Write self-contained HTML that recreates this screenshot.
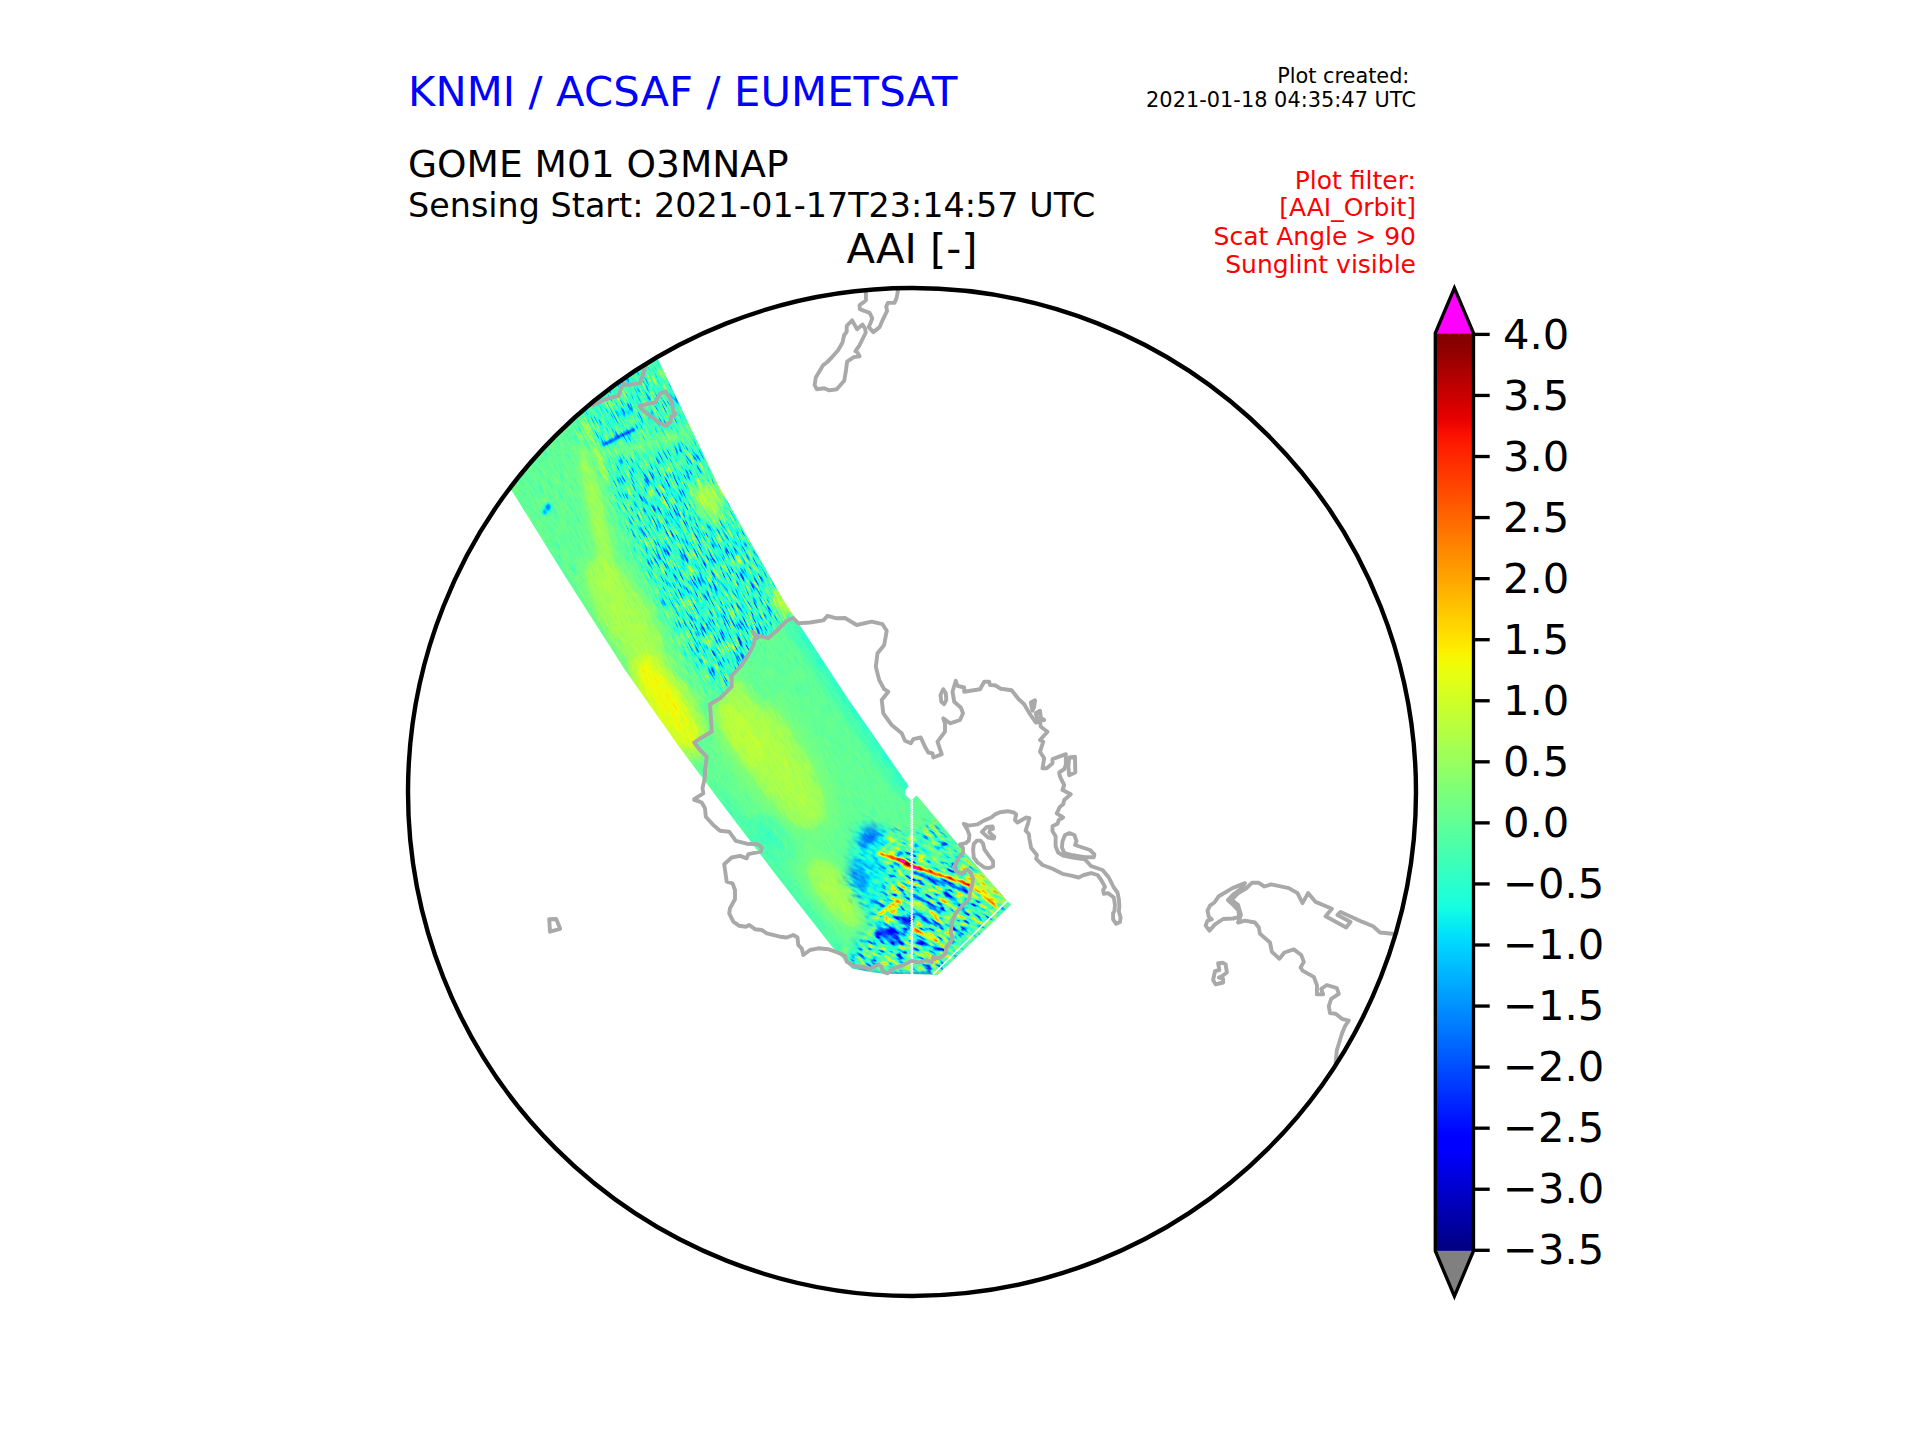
<!DOCTYPE html>
<html><head><meta charset="utf-8"><title>AAI</title>
<style>html,body{margin:0;padding:0;background:#fff}svg{display:block}text{font-family:"DejaVu Sans","Liberation Sans",sans-serif}</style>
</head><body>
<svg width="1920" height="1440" viewBox="0 0 1920 1440">
<defs>
<linearGradient id="jetg" x1="0" y1="0" x2="0" y2="1"><stop offset="0.0000" stop-color="rgb(128,0,0)"/><stop offset="0.0156" stop-color="rgb(141,0,0)"/><stop offset="0.0312" stop-color="rgb(159,0,0)"/><stop offset="0.0469" stop-color="rgb(178,0,0)"/><stop offset="0.0625" stop-color="rgb(196,0,0)"/><stop offset="0.0781" stop-color="rgb(214,0,0)"/><stop offset="0.0938" stop-color="rgb(232,0,0)"/><stop offset="0.1094" stop-color="rgb(250,15,0)"/><stop offset="0.1250" stop-color="rgb(255,30,0)"/><stop offset="0.1406" stop-color="rgb(255,45,0)"/><stop offset="0.1562" stop-color="rgb(255,59,0)"/><stop offset="0.1719" stop-color="rgb(255,74,0)"/><stop offset="0.1875" stop-color="rgb(255,89,0)"/><stop offset="0.2031" stop-color="rgb(255,104,0)"/><stop offset="0.2188" stop-color="rgb(255,119,0)"/><stop offset="0.2344" stop-color="rgb(255,134,0)"/><stop offset="0.2500" stop-color="rgb(255,148,0)"/><stop offset="0.2656" stop-color="rgb(255,163,0)"/><stop offset="0.2812" stop-color="rgb(255,178,0)"/><stop offset="0.2969" stop-color="rgb(255,193,0)"/><stop offset="0.3125" stop-color="rgb(255,208,0)"/><stop offset="0.3281" stop-color="rgb(255,222,0)"/><stop offset="0.3438" stop-color="rgb(254,237,0)"/><stop offset="0.3594" stop-color="rgb(241,252,6)"/><stop offset="0.3750" stop-color="rgb(228,255,19)"/><stop offset="0.3906" stop-color="rgb(215,255,31)"/><stop offset="0.4062" stop-color="rgb(202,255,44)"/><stop offset="0.4219" stop-color="rgb(190,255,57)"/><stop offset="0.4375" stop-color="rgb(177,255,70)"/><stop offset="0.4531" stop-color="rgb(164,255,83)"/><stop offset="0.4688" stop-color="rgb(151,255,96)"/><stop offset="0.4844" stop-color="rgb(138,255,109)"/><stop offset="0.5000" stop-color="rgb(125,255,122)"/><stop offset="0.5156" stop-color="rgb(112,255,135)"/><stop offset="0.5312" stop-color="rgb(99,255,148)"/><stop offset="0.5469" stop-color="rgb(86,255,160)"/><stop offset="0.5625" stop-color="rgb(73,255,173)"/><stop offset="0.5781" stop-color="rgb(60,255,186)"/><stop offset="0.5938" stop-color="rgb(48,255,199)"/><stop offset="0.6094" stop-color="rgb(35,255,212)"/><stop offset="0.6250" stop-color="rgb(22,255,225)"/><stop offset="0.6406" stop-color="rgb(9,240,238)"/><stop offset="0.6562" stop-color="rgb(0,224,251)"/><stop offset="0.6719" stop-color="rgb(0,208,255)"/><stop offset="0.6875" stop-color="rgb(0,192,255)"/><stop offset="0.7031" stop-color="rgb(0,176,255)"/><stop offset="0.7188" stop-color="rgb(0,160,255)"/><stop offset="0.7344" stop-color="rgb(0,144,255)"/><stop offset="0.7500" stop-color="rgb(0,128,255)"/><stop offset="0.7656" stop-color="rgb(0,112,255)"/><stop offset="0.7812" stop-color="rgb(0,96,255)"/><stop offset="0.7969" stop-color="rgb(0,80,255)"/><stop offset="0.8125" stop-color="rgb(0,64,255)"/><stop offset="0.8281" stop-color="rgb(0,48,255)"/><stop offset="0.8438" stop-color="rgb(0,32,255)"/><stop offset="0.8594" stop-color="rgb(0,16,255)"/><stop offset="0.8750" stop-color="rgb(0,0,255)"/><stop offset="0.8906" stop-color="rgb(0,0,255)"/><stop offset="0.9062" stop-color="rgb(0,0,237)"/><stop offset="0.9219" stop-color="rgb(0,0,218)"/><stop offset="0.9375" stop-color="rgb(0,0,200)"/><stop offset="0.9531" stop-color="rgb(0,0,182)"/><stop offset="0.9688" stop-color="rgb(0,0,164)"/><stop offset="0.9844" stop-color="rgb(0,0,146)"/><stop offset="1.0000" stop-color="rgb(0,0,128)"/></linearGradient>
<clipPath id="circ"><circle cx="912" cy="792" r="504"/></clipPath>
<clipPath id="swc" clip-path="url(#circ)"><path d="M505.0 480.0 L512.0 491.0 L568.0 581.0 L625.0 670.0 L680.0 748.0 L719.0 800.0 L776.0 875.0 L833.0 948.0 L851.7 968.3 L870.0 972.0 L888.0 974.0 L910.0 974.0 L930.0 974.5 L937.5 975.0 L1011.2 904.4 L1006.9 900.6 L960.6 847.5 L917.5 796.3 L915.6 795.9 L912.9 799.3 L910.5 799.8 L905.0 794.4 L905.0 790.6 L908.8 786.2 L846.7 696.7 L783.3 600.0 L717.5 483.8 L658.0 359.0 L650.0 340.0 Z"/></clipPath>
<clipPath id="antc"><path d="M793.3 618.0 L798.3 623.3 L810.0 622.5 L823.3 620.3 L827.5 615.8 L836.7 618.3 L845.0 618.0 L856.7 625.0 L871.7 621.7 L882.5 624.2 L886.7 630.8 L884.2 645.0 L877.5 653.3 L875.8 666.7 L879.2 680.0 L884.2 689.2 L888.3 691.7 L881.7 700.0 L883.3 713.3 L891.7 725.0 L901.7 733.3 L905.0 740.8 L910.8 743.3 L913.3 739.2 L920.8 737.5 L925.0 746.7 L928.3 752.5 L932.5 753.3 L933.3 757.5 L941.7 754.2 L940.0 749.2 L937.5 741.7 L945.0 731.7 L945.0 723.3 L943.3 718.3 L950.0 723.3 L960.0 720.0 L963.0 713.3 L960.8 707.5 L954.2 701.7 L952.5 691.7 L955.8 680.8 L957.5 685.8 L964.2 687.5 L964.2 691.7 L980.0 689.2 L984.2 681.7 L989.2 681.7 L990.0 685.0 L995.0 685.3 L1000.8 688.7 L1011.7 690.3 L1018.3 698.7 L1024.2 704.2 L1030.0 714.2 L1035.8 722.5 L1040.0 721.7 L1040.8 726.7 L1047.5 731.7 L1040.0 740.0 L1043.3 741.7 L1040.0 751.7 L1044.2 758.3 L1042.5 768.3 L1046.7 768.3 L1052.5 763.3 L1052.5 759.2 L1065.8 754.2 L1065.8 765.0 L1064.2 769.2 L1059.2 772.5 L1060.0 776.7 L1064.2 785.0 L1062.5 790.0 L1070.8 794.2 L1064.2 800.0 L1063.3 804.2 L1060.0 806.7 L1056.7 813.3 L1063.1 817.5 L1058.8 820.0 L1057.5 823.8 L1052.5 826.2 L1052.5 831.2 L1055.6 836.2 L1055.6 846.2 L1058.1 852.5 L1063.1 855.6 L1072.5 857.5 L1085.0 859.4 L1091.2 866.2 L1102.5 870.0 L1108.8 877.5 L1113.8 887.5 L1117.5 892.5 L1118.8 898.8 L1119.4 906.2 L1118.8 911.2 L1120.6 917.5 L1120.0 921.9 L1116.2 923.8 L1113.1 919.4 L1113.1 913.1 L1114.4 911.2 L1115.0 905.0 L1113.8 897.5 L1108.1 893.1 L1103.8 893.8 L1103.1 890.0 L1105.0 886.9 L1101.2 880.0 L1097.5 875.0 L1091.2 873.1 L1083.8 875.0 L1078.8 877.5 L1071.2 875.6 L1062.5 873.8 L1052.5 868.8 L1042.5 865.0 L1036.2 858.8 L1036.9 855.0 L1031.2 848.1 L1029.4 838.8 L1028.8 833.8 L1025.6 830.6 L1028.1 823.1 L1029.4 818.1 L1026.2 817.5 L1017.5 822.5 L1015.0 820.0 L1016.2 814.4 L1013.8 812.5 L1007.5 811.2 L1000.0 812.2 L995.0 814.4 L991.2 817.5 L983.8 820.6 L977.5 824.4 L968.8 825.6 L963.8 823.8 L967.5 830.0 L969.4 835.0 L968.8 840.6 L965.6 843.1 L960.0 844.4 L963.1 848.1 L963.1 852.5 L958.8 857.5 L956.2 863.1 L953.8 866.9 L956.9 871.9 L961.9 873.8 L966.9 869.4 L970.6 872.5 L973.1 878.8 L971.9 886.2 L970.0 892.5 L969.4 898.8 L963.1 905.0 L956.2 912.5 L952.5 920.0 L950.8 931.7 L952.5 939.2 L946.7 946.7 L945.0 954.2 L939.2 958.3 L933.3 956.7 L931.7 962.5 L926.7 960.0 L918.3 962.5 L911.7 960.8 L903.3 965.0 L891.7 969.2 L887.5 973.3 L882.5 971.7 L881.7 966.7 L878.3 964.2 L870.0 969.2 L863.3 966.7 L853.3 965.8 L846.7 961.7 L845.0 955.8 L837.5 952.5 L828.3 949.2 L818.3 948.3 L810.0 950.0 L803.3 955.0 L801.7 948.3 L798.3 945.0 L797.5 937.5 L793.3 935.0 L786.7 937.5 L780.0 936.7 L766.7 933.3 L761.7 930.0 L755.0 929.2 L749.2 925.0 L745.8 926.7 L739.2 925.8 L733.3 921.7 L729.2 913.3 L730.0 908.3 L735.0 899.2 L735.0 890.0 L732.5 883.3 L726.7 881.7 L724.2 864.2 L731.7 857.5 L740.0 855.8 L746.7 858.3 L748.3 854.2 L760.8 851.7 L761.7 847.5 L757.5 844.2 L746.7 843.7 L735.8 840.8 L729.2 831.7 L720.0 830.8 L713.3 825.0 L705.8 816.7 L705.0 808.3 L701.7 802.5 L694.2 800.0 L701.7 802.5 L694.2 799.2 L703.3 793.3 L702.5 788.3 L705.0 776.7 L705.0 770.0 L706.7 756.7 L700.0 750.0 L694.2 742.5 L701.7 737.5 L711.7 731.7 L710.8 716.7 L710.0 704.2 L720.0 698.3 L731.7 686.7 L731.7 675.8 L741.7 665.0 L748.3 655.0 L753.3 645.0 L755.8 635.8 L752.5 631.7 L756.7 638.3 L759.2 635.8 L768.3 638.0 L777.5 630.0 L786.7 620.8 Z"/></clipPath>
<mask id="chm" maskUnits="userSpaceOnUse" x="700" y="700" width="400" height="400"><path d="M858.0 824.0 L882.0 826.0 L911.0 838.0 L933.0 822.0 L1011.0 904.0 L937.0 975.0 L851.0 968.0 L843.0 955.0 L873.0 926.0 L846.0 882.0 Z" fill="#fff" filter="url(#b6)"/></mask>
<filter id="b1" filterUnits="userSpaceOnUse" x="300" y="200" width="900" height="900"><feGaussianBlur stdDeviation="1"/></filter><filter id="b2" filterUnits="userSpaceOnUse" x="300" y="200" width="900" height="900"><feGaussianBlur stdDeviation="2"/></filter><filter id="b3" filterUnits="userSpaceOnUse" x="300" y="200" width="900" height="900"><feGaussianBlur stdDeviation="3"/></filter><filter id="b4" filterUnits="userSpaceOnUse" x="300" y="200" width="900" height="900"><feGaussianBlur stdDeviation="4"/></filter><filter id="b5" filterUnits="userSpaceOnUse" x="300" y="200" width="900" height="900"><feGaussianBlur stdDeviation="5"/></filter><filter id="b6" filterUnits="userSpaceOnUse" x="300" y="200" width="900" height="900"><feGaussianBlur stdDeviation="6"/></filter><filter id="b8" filterUnits="userSpaceOnUse" x="300" y="200" width="900" height="900"><feGaussianBlur stdDeviation="8"/></filter><filter id="b9" filterUnits="userSpaceOnUse" x="300" y="200" width="900" height="900"><feGaussianBlur stdDeviation="9"/></filter><filter id="b10" filterUnits="userSpaceOnUse" x="300" y="200" width="900" height="900"><feGaussianBlur stdDeviation="10"/></filter><filter id="b14" filterUnits="userSpaceOnUse" x="300" y="200" width="900" height="900"><feGaussianBlur stdDeviation="14"/></filter>
<filter id="jetf" filterUnits="userSpaceOnUse" x="-400" y="-400" width="2800" height="2600" color-interpolation-filters="sRGB">
<feTurbulence type="fractalNoise" baseFrequency="0.7 0.07" numOctaves="2" seed="7" result="t"/>
<feColorMatrix in="t" type="matrix" values="2 0 0 0 -0.5  2 0 0 0 -0.5  2 0 0 0 -0.5  0 0 0 0 1" result="n0"/>
<feComponentTransfer in="n0" result="n"><feFuncR type="table" tableValues="0 0.1 0.27 0.385 0.457 0.5 0.557 0.63 0.73 0.9 1"/><feFuncG type="table" tableValues="0 0.1 0.27 0.385 0.457 0.5 0.557 0.63 0.73 0.9 1"/><feFuncB type="table" tableValues="0 0.1 0.27 0.385 0.457 0.5 0.557 0.63 0.73 0.9 1"/></feComponentTransfer>
<feColorMatrix in="SourceGraphic" type="matrix" values="0 1 0 0 0  0 1 0 0 0  0 1 0 0 0  0 0 0 0 1" result="amp"/>
<feColorMatrix in="SourceGraphic" type="matrix" values="1 0 0 0 0  1 0 0 0 0  1 0 0 0 0  0 0 0 0 1" result="base"/>
<feComposite in="n" in2="amp" operator="arithmetic" k1="1" k2="0" k3="0" k4="0" result="p"/>
<feComposite in="p" in2="base" operator="arithmetic" k1="0" k2="1" k3="1" k4="0" result="v"/>
<feComponentTransfer in="v"><feFuncR type="table" tableValues="0.000 0.000 0.000 0.000 0.000 0.000 0.000 0.000 0.000 0.000 0.000 0.000 0.000 0.000 0.000 0.000 0.000 0.000 0.000 0.000 0.000 0.000 0.000 0.035 0.085 0.136 0.187 0.237 0.288 0.338 0.389 0.440 0.490 0.541 0.591 0.642 0.693 0.743 0.794 0.844 0.895 0.946 0.996 1.000 1.000 1.000 1.000 1.000 1.000 1.000 1.000 1.000 1.000 1.000 1.000 1.000 1.000 0.981 0.910 0.839 0.767 0.696 0.625 0.553 0.500"/><feFuncG type="table" tableValues="0.000 0.000 0.000 0.000 0.000 0.000 0.000 0.000 0.002 0.065 0.127 0.190 0.253 0.316 0.378 0.441 0.504 0.567 0.629 0.692 0.755 0.818 0.880 0.943 1.000 1.000 1.000 1.000 1.000 1.000 1.000 1.000 1.000 1.000 1.000 1.000 1.000 1.000 1.000 1.000 1.000 0.988 0.930 0.872 0.814 0.756 0.698 0.640 0.582 0.524 0.466 0.407 0.349 0.291 0.233 0.175 0.117 0.059 0.001 0.000 0.000 0.000 0.000 0.000 0.000"/><feFuncB type="table" tableValues="0.500 0.571 0.643 0.714 0.785 0.857 0.928 0.999 1.000 1.000 1.000 1.000 1.000 1.000 1.000 1.000 1.000 1.000 1.000 1.000 1.000 1.000 0.984 0.933 0.882 0.832 0.781 0.731 0.680 0.629 0.579 0.528 0.478 0.427 0.376 0.326 0.275 0.225 0.174 0.123 0.073 0.022 0.000 0.000 0.000 0.000 0.000 0.000 0.000 0.000 0.000 0.000 0.000 0.000 0.000 0.000 0.000 0.000 0.000 0.000 0.000 0.000 0.000 0.000 0.000"/></feComponentTransfer>
</filter>
<filter id="jetc" filterUnits="userSpaceOnUse" x="-400" y="-400" width="2800" height="2600" color-interpolation-filters="sRGB">
<feTurbulence type="fractalNoise" baseFrequency="0.1 0.26" numOctaves="2" seed="11" result="t"/>
<feColorMatrix in="t" type="matrix" values="2 0 0 0 -0.5  2 0 0 0 -0.5  2 0 0 0 -0.5  0 0 0 0 1" result="n0"/>
<feComponentTransfer in="n0" result="n"><feFuncR type="table" tableValues="0 0.1 0.27 0.385 0.457 0.5 0.557 0.63 0.73 0.9 1"/><feFuncG type="table" tableValues="0 0.1 0.27 0.385 0.457 0.5 0.557 0.63 0.73 0.9 1"/><feFuncB type="table" tableValues="0 0.1 0.27 0.385 0.457 0.5 0.557 0.63 0.73 0.9 1"/></feComponentTransfer>
<feColorMatrix in="SourceGraphic" type="matrix" values="0 1 0 0 0  0 1 0 0 0  0 1 0 0 0  0 0 0 0 1" result="amp"/>
<feColorMatrix in="SourceGraphic" type="matrix" values="1 0 0 0 0  1 0 0 0 0  1 0 0 0 0  0 0 0 0 1" result="base"/>
<feComposite in="n" in2="amp" operator="arithmetic" k1="1" k2="0" k3="0" k4="0" result="p"/>
<feComposite in="p" in2="base" operator="arithmetic" k1="0" k2="1" k3="1" k4="0" result="v"/>
<feComponentTransfer in="v"><feFuncR type="table" tableValues="0.000 0.000 0.000 0.000 0.000 0.000 0.000 0.000 0.000 0.000 0.000 0.000 0.000 0.000 0.000 0.000 0.000 0.000 0.000 0.000 0.000 0.000 0.000 0.035 0.085 0.136 0.187 0.237 0.288 0.338 0.389 0.440 0.490 0.541 0.591 0.642 0.693 0.743 0.794 0.844 0.895 0.946 0.996 1.000 1.000 1.000 1.000 1.000 1.000 1.000 1.000 1.000 1.000 1.000 1.000 1.000 1.000 0.981 0.910 0.839 0.767 0.696 0.625 0.553 0.500"/><feFuncG type="table" tableValues="0.000 0.000 0.000 0.000 0.000 0.000 0.000 0.000 0.002 0.065 0.127 0.190 0.253 0.316 0.378 0.441 0.504 0.567 0.629 0.692 0.755 0.818 0.880 0.943 1.000 1.000 1.000 1.000 1.000 1.000 1.000 1.000 1.000 1.000 1.000 1.000 1.000 1.000 1.000 1.000 1.000 0.988 0.930 0.872 0.814 0.756 0.698 0.640 0.582 0.524 0.466 0.407 0.349 0.291 0.233 0.175 0.117 0.059 0.001 0.000 0.000 0.000 0.000 0.000 0.000"/><feFuncB type="table" tableValues="0.500 0.571 0.643 0.714 0.785 0.857 0.928 0.999 1.000 1.000 1.000 1.000 1.000 1.000 1.000 1.000 1.000 1.000 1.000 1.000 1.000 1.000 0.984 0.933 0.882 0.832 0.781 0.731 0.680 0.629 0.579 0.528 0.478 0.427 0.376 0.326 0.275 0.225 0.174 0.123 0.073 0.022 0.000 0.000 0.000 0.000 0.000 0.000 0.000 0.000 0.000 0.000 0.000 0.000 0.000 0.000 0.000 0.000 0.000 0.000 0.000 0.000 0.000 0.000 0.000"/></feComponentTransfer>
</filter>
</defs>
<rect width="1920" height="1440" fill="#fff"/>
<!-- data swath -->
<g clip-path="url(#swc)">
<g transform="rotate(-28 912 792)" filter="url(#jetf)">
<g transform="rotate(28 912 792)">
<rect x="300" y="200" width="900" height="900" fill="rgb(105,27,0)"/>
<path d="M605.0 385.0 L680.0 380.0 L735.0 480.0 L800.0 600.0 L790.0 640.0 L720.0 700.0 L690.0 690.0 L655.0 600.0 L615.0 500.0 L590.0 430.0 Z" fill="rgb(52,105,0)" opacity="1" filter="url(#b9)"/>
<path d="M640.0 470.0 L700.0 470.0 L760.0 580.0 L770.0 640.0 L720.0 680.0 L690.0 640.0 L660.0 560.0 Z" fill="rgb(36,129,0)" opacity="0.8" filter="url(#b10)"/>
<path d="M565.0 400.0 L640.0 345.0 L690.0 400.0 L700.0 450.0 L620.0 470.0 L585.0 450.0 Z" fill="rgb(61,88,0)" opacity="0.85" filter="url(#b9)"/>
<path d="M490.0 470.0 L560.0 415.0 L597.0 470.0 L630.0 560.0 L690.0 660.0 L735.0 715.0 L700.0 770.0 L640.0 690.0 L560.0 570.0 Z" fill="rgb(108,24,0)" opacity="1" filter="url(#b8)"/>
<ellipse cx="598" cy="520" rx="8" ry="78" transform="rotate(-12 598 520)" fill="rgb(136,14,0)" opacity="0.9" filter="url(#b6)"/>
<ellipse cx="626" cy="618" rx="24" ry="70" transform="rotate(-30 626 618)" fill="rgb(136,17,0)" opacity="0.9" filter="url(#b9)"/>
<ellipse cx="668" cy="707" rx="22" ry="58" transform="rotate(-33 668 707)" fill="rgb(148,20,0)" opacity="1" filter="url(#b9)"/>
<ellipse cx="660" cy="690" rx="10" ry="34" transform="rotate(-33 660 690)" fill="rgb(156,17,0)" opacity="0.8" filter="url(#b5)"/>
<ellipse cx="708" cy="500" rx="14" ry="22" transform="rotate(-25 708 500)" fill="rgb(133,20,0)" opacity="0.9" filter="url(#b6)"/>
<ellipse cx="782" cy="603" rx="7" ry="18" transform="rotate(-30 782 603)" fill="rgb(136,27,0)" opacity="0.9" filter="url(#b4)"/>
<path d="M596.0 456.0 L640.0 446.0 L690.0 432.0" fill="none" stroke="rgb(116,24,0)" stroke-width="11" stroke-linecap="round" stroke-linejoin="round" opacity="0.85" filter="url(#b4)"/>
<path d="M604.0 444.5 L620.0 436.0 L634.0 429.5" fill="none" stroke="rgb(27,34,0)" stroke-width="3.2" stroke-linecap="round" stroke-linejoin="round" opacity="1" filter="url(#b1)"/>
<path d="M566.0 418.0 L585.0 409.0" fill="none" stroke="rgb(48,34,0)" stroke-width="3" stroke-linecap="round" stroke-linejoin="round" opacity="0.9" filter="url(#b1)"/>
<ellipse cx="548" cy="507" rx="3" ry="4" transform="rotate(0 548 507)" fill="rgb(56,17,0)" opacity="1" filter="url(#b1)"/>
<ellipse cx="545" cy="512" rx="2.5" ry="3" transform="rotate(0 545 512)" fill="rgb(63,17,0)" opacity="1" filter="url(#b1)"/>
<path d="M583.0 420.0 L592.0 441.0 L600.0 462.0 L607.0 480.0" fill="none" stroke="rgb(151,17,0)" stroke-width="4" stroke-linecap="round" stroke-linejoin="round" opacity="0.8" filter="url(#b2)"/>
<g clip-path="url(#antc)"><rect x="600" y="550" width="500" height="500" fill="rgb(113,12,0)"/>
<ellipse cx="772" cy="755" rx="30" ry="90" transform="rotate(-33 772 755)" fill="rgb(137,7,0)" opacity="1" filter="url(#b14)"/>
<ellipse cx="740" cy="735" rx="14" ry="40" transform="rotate(-33 740 735)" fill="rgb(141,7,0)" opacity="0.8" filter="url(#b8)"/>
<ellipse cx="836" cy="892" rx="17" ry="45" transform="rotate(-38 836 892)" fill="rgb(135,8,0)" opacity="1" filter="url(#b10)"/>
<ellipse cx="770" cy="838" rx="13" ry="25" transform="rotate(-40 770 838)" fill="rgb(102,7,0)" opacity="1" filter="url(#b6)"/>
<ellipse cx="760" cy="690" rx="9" ry="18" transform="rotate(-30 760 690)" fill="rgb(109,7,0)" opacity="0.8" filter="url(#b5)"/>
<path d="M797.0 622.0 L846.7 696.7 L908.3 786.7" fill="none" stroke="rgb(98,8,0)" stroke-width="20" stroke-linecap="round" stroke-linejoin="round" opacity="1" filter="url(#b5)"/>
<path d="M719.0 800.0 L776.0 875.0 L833.0 948.0" fill="none" stroke="rgb(103,8,0)" stroke-width="12" stroke-linecap="round" stroke-linejoin="round" opacity="1" filter="url(#b5)"/>
</g>
</g></g>
<g mask="url(#chm)">
<g transform="rotate(30 912 792)" filter="url(#jetc)">
<g transform="rotate(-30 912 792)">
<rect x="700" y="700" width="400" height="400" fill="rgb(34,150,0)"/>
<path d="M846.0 826.0 L870.0 815.0 L890.0 822.0 L885.0 880.0 L872.0 925.0 L850.0 968.0 L842.0 930.0 L858.0 900.0 L840.0 870.0 Z" fill="rgb(71,41,0)" opacity="1" filter="url(#b6)"/>
<ellipse cx="869" cy="836" rx="8" ry="11" transform="rotate(20 869 836)" fill="rgb(44,27,0)" opacity="1" filter="url(#b3)"/>
<ellipse cx="857" cy="876" rx="9" ry="17" transform="rotate(-25 857 876)" fill="rgb(56,31,0)" opacity="1" filter="url(#b4)"/>
<ellipse cx="890" cy="935" rx="15" ry="7" transform="rotate(25 890 935)" fill="rgb(15,51,0)" opacity="1" filter="url(#b3)"/>
<ellipse cx="906" cy="921" rx="6" ry="5" transform="rotate(0 906 921)" fill="rgb(17,34,0)" opacity="1" filter="url(#b2)"/>
<ellipse cx="930" cy="850" rx="18" ry="9" transform="rotate(40 930 850)" fill="rgb(99,27,0)" opacity="1" filter="url(#b5)"/>
<ellipse cx="985" cy="885" rx="24" ry="9" transform="rotate(42 985 885)" fill="rgb(116,75,0)" opacity="1" filter="url(#b4)"/>
<path d="M880.0 853.5 L901.7 860.5 L913.3 867.0 L930.0 872.0 L950.0 878.5 L970.0 885.5" fill="none" stroke="rgb(207,54,0)" stroke-width="3.2" stroke-linecap="round" stroke-linejoin="round" opacity="1.0" filter="url(#b1)"/>
<path d="M897.0 859.0 L907.0 863.0 L913.0 867.0 L922.0 870.0" fill="none" stroke="rgb(255,7,0)" stroke-width="2.6" stroke-linecap="round" stroke-linejoin="round" opacity="1" filter="url(#b1)"/>
<path d="M915.0 872.0 L932.0 879.0 L952.0 886.0 L968.0 892.0" fill="none" stroke="rgb(10,54,0)" stroke-width="3.4" stroke-linecap="round" stroke-linejoin="round" opacity="0.9" filter="url(#b1)"/>
<path d="M975.0 889.0 L985.0 897.0 L997.0 908.0" fill="none" stroke="rgb(194,54,0)" stroke-width="2.6" stroke-linecap="round" stroke-linejoin="round" opacity="0.9" filter="url(#b1)"/>
<path d="M968.0 880.0 L982.0 890.0 L1000.0 905.0" fill="none" stroke="rgb(146,54,0)" stroke-width="2.0" stroke-linecap="round" stroke-linejoin="round" opacity="0.8" filter="url(#b1)"/>
<path d="M877.0 855.0 L886.0 846.0 L897.0 838.5" fill="none" stroke="rgb(143,54,0)" stroke-width="2.4" stroke-linecap="round" stroke-linejoin="round" opacity="0.9" filter="url(#b1)"/>
<path d="M878.5 915.0 L888.0 908.0 L897.0 901.5" fill="none" stroke="rgb(173,54,0)" stroke-width="3.0" stroke-linecap="round" stroke-linejoin="round" opacity="1.0" filter="url(#b1)"/>
<path d="M884.0 861.0 L897.0 866.0 L910.0 870.0" fill="none" stroke="rgb(139,54,0)" stroke-width="2.2" stroke-linecap="round" stroke-linejoin="round" opacity="0.8" filter="url(#b1)"/>
<path d="M913.0 895.0 L925.0 902.0 L940.0 912.0" fill="none" stroke="rgb(3,54,0)" stroke-width="3.0" stroke-linecap="round" stroke-linejoin="round" opacity="0.9" filter="url(#b1)"/>
<path d="M915.0 903.0 L926.0 909.0 L938.0 917.0" fill="none" stroke="rgb(173,54,0)" stroke-width="2.6" stroke-linecap="round" stroke-linejoin="round" opacity="0.9" filter="url(#b1)"/>
<path d="M916.0 913.0 L926.0 920.0 L936.0 926.0" fill="none" stroke="rgb(0,54,0)" stroke-width="3.0" stroke-linecap="round" stroke-linejoin="round" opacity="0.9" filter="url(#b1)"/>
<path d="M915.0 930.0 L926.0 936.0 L938.0 941.0" fill="none" stroke="rgb(180,54,0)" stroke-width="2.6" stroke-linecap="round" stroke-linejoin="round" opacity="0.9" filter="url(#b1)"/>
<path d="M918.0 940.0 L928.0 946.0 L940.0 950.0" fill="none" stroke="rgb(0,54,0)" stroke-width="3.0" stroke-linecap="round" stroke-linejoin="round" opacity="0.9" filter="url(#b1)"/>
<path d="M920.0 955.0 L930.0 960.0 L940.0 962.0" fill="none" stroke="rgb(167,54,0)" stroke-width="2.4" stroke-linecap="round" stroke-linejoin="round" opacity="0.8" filter="url(#b1)"/>
<path d="M944.0 893.0 L957.0 902.0 L966.0 912.0" fill="none" stroke="rgb(17,54,0)" stroke-width="2.4" stroke-linecap="round" stroke-linejoin="round" opacity="0.8" filter="url(#b1)"/>
<path d="M946.0 903.0 L956.0 911.0 L962.0 921.0" fill="none" stroke="rgb(160,54,0)" stroke-width="2.2" stroke-linecap="round" stroke-linejoin="round" opacity="0.8" filter="url(#b1)"/>
<path d="M852.0 969.0 L880.0 973.0 L905.0 974.0 L930.0 973.0" fill="none" stroke="rgb(0,54,0)" stroke-width="3.0" stroke-linecap="round" stroke-linejoin="round" opacity="0.85" filter="url(#b1)"/>
</g></g></g>
<path d="M899.5 859.8 L905.5 862.2 M912.5 866.7 L919.5 869.2" stroke="#ff00ff" stroke-width="2.2" fill="none"/>
<path d="M911.1 799.5 L912.4 800.8 L911.1 802.0 L912.4 803.2 L911.1 804.5 L912.4 805.8 L911.1 807.0 L912.4 808.2 L911.1 809.5 L912.4 810.8 L911.1 812.0 L912.4 813.2 L911.1 814.5 L912.4 815.8 L911.1 817.0 L912.4 818.2 L911.1 819.5 L912.4 820.8 L911.1 822.0 L912.4 823.2 L911.1 824.5 L912.4 825.8 L911.1 827.0 L912.4 828.2 L911.1 829.5 L912.4 830.8 L911.1 832.0 L912.4 833.2 L911.1 834.5 L912.4 835.8 L911.1 837.0 L912.4 838.2 L911.1 839.5 L912.4 840.8 L911.1 842.0 L912.4 843.2 L911.1 844.5 L912.4 845.8 L911.1 847.0 L912.4 848.2 L911.1 849.5 L912.4 850.8 L911.1 852.0 L912.4 853.2 L911.1 854.5 L912.4 855.8 L911.1 857.0 L912.4 858.2 L911.1 859.5 L912.4 860.8 L911.1 862.0 L912.4 863.2 L911.1 864.5 L912.4 865.8 L911.1 867.0 L912.4 868.2 L911.1 869.5 L912.4 870.8 L911.1 872.0 L912.4 873.2 L911.1 874.5 L912.4 875.8 L911.1 877.0 L912.4 878.2 L911.1 879.5 L912.4 880.8 L911.1 882.0 L912.4 883.2 L911.1 884.5 L912.4 885.8 L911.1 887.0 L912.4 888.2 L911.1 889.5 L912.4 890.8 L911.1 892.0 L912.4 893.2 L911.1 894.5 L912.4 895.8 L911.1 897.0 L912.4 898.2 L911.1 899.5 L912.4 900.8 L911.1 902.0 L912.4 903.2 L911.1 904.5 L912.4 905.8 L911.1 907.0 L912.4 908.2 L911.1 909.5 L912.4 910.8 L911.1 912.0 L912.4 913.2 L911.1 914.5 L912.4 915.8 L911.1 917.0 L912.4 918.2 L911.1 919.5 L912.4 920.8 L911.1 922.0 L912.4 923.2 L911.1 924.5 L912.4 925.8 L911.1 927.0 L912.4 928.2 L911.1 929.5 L912.4 930.8 L911.1 932.0 L912.4 933.2 L911.1 934.5 L912.4 935.8 L911.1 937.0 L912.4 938.2 L911.1 939.5 L912.4 940.8 L911.1 942.0 L912.4 943.2 L911.1 944.5 L912.4 945.8 L911.1 947.0 L912.4 948.2 L911.1 949.5 L912.4 950.8 L911.1 952.0 L912.4 953.2 L911.1 954.5 L912.4 955.8 L911.1 957.0 L912.4 958.2 L911.1 959.5 L912.4 960.8 L911.1 962.0 L912.4 963.2 L911.1 964.5 L912.4 965.8 L911.1 967.0 L912.4 968.2 L911.1 969.5 L912.4 970.8 L911.1 972.0 L912.4 973.2 L911.1 974.5" stroke="#fff" stroke-width="1.7" fill="none" stroke-linejoin="round"/>
<path d="M1007.4 900.6 L933 974.5" stroke="#fff" stroke-width="1.5" fill="none"/>
</g>
<!-- coastlines -->
<g clip-path="url(#circ)" fill="none" stroke="#a9a9a9" stroke-width="3.9" stroke-linejoin="round" stroke-linecap="round">
<path d="M593.1 405.0 L605.0 399.4 L618.8 395.6 L621.2 387.5 L624.4 383.8 L626.9 385.0 L640.0 383.1 L642.5 376.2 L645.0 367.5"/>
<path d="M639.4 406.2 L647.5 403.8 L655.0 402.5 L660.0 393.8 L665.0 391.2 L668.8 396.2 L671.9 402.5 L673.1 411.2 L675.6 413.8 L674.4 415.6 L671.2 416.2 L670.6 421.9 L665.6 425.6 L660.0 423.1 L652.5 417.5 L643.8 411.2 Z"/>
<path d="M865.8 291.2 L866.0 300.0 L863.8 302.1 L859.6 305.0 L859.8 309.2 L864.2 310.8 L869.6 312.9 L872.3 318.3 L870.4 323.3 L868.8 327.1 L873.3 332.1 L879.6 327.1 L882.5 320.4 L887.1 310.8 L886.2 306.7 L887.9 302.9 L894.6 302.9 L896.7 297.5 L897.9 290.8"/>
<path d="M852.1 320.4 L846.7 325.8 L846.7 331.7 L844.2 335.0 L842.5 342.5 L838.3 350.0 L831.7 357.5 L826.7 362.5 L822.9 365.4 L819.2 371.7 L815.8 377.5 L814.6 385.0 L816.7 389.2 L824.2 388.3 L829.2 390.4 L836.7 389.2 L844.2 380.8 L845.8 371.7 L847.1 361.7 L853.8 357.1 L859.6 356.2 L857.1 352.1 L855.4 351.2 L859.2 345.8 L863.3 337.5 L865.8 332.5 L865.0 328.3 L862.5 324.6 L857.1 329.2 Z"/>
<path d="M549.2 919.2 L556.2 919.0 L560.2 928.8 L550.0 931.7 Z"/>
<path d="M793.3 618.0 L798.3 623.3 L810.0 622.5 L823.3 620.3 L827.5 615.8 L836.7 618.3 L845.0 618.0 L856.7 625.0 L871.7 621.7 L882.5 624.2 L886.7 630.8 L884.2 645.0 L877.5 653.3 L875.8 666.7 L879.2 680.0 L884.2 689.2 L888.3 691.7 L881.7 700.0 L883.3 713.3 L891.7 725.0 L901.7 733.3 L905.0 740.8 L910.8 743.3 L913.3 739.2 L920.8 737.5 L925.0 746.7 L928.3 752.5 L932.5 753.3 L933.3 757.5 L941.7 754.2 L940.0 749.2 L937.5 741.7 L945.0 731.7 L945.0 723.3 L943.3 718.3 L950.0 723.3 L960.0 720.0 L963.0 713.3 L960.8 707.5 L954.2 701.7 L952.5 691.7 L955.8 680.8 L957.5 685.8 L964.2 687.5 L964.2 691.7 L980.0 689.2 L984.2 681.7 L989.2 681.7 L990.0 685.0 L995.0 685.3 L1000.8 688.7 L1011.7 690.3 L1018.3 698.7 L1024.2 704.2 L1030.0 714.2 L1035.8 722.5 L1040.0 721.7 L1040.8 726.7 L1047.5 731.7 L1040.0 740.0 L1043.3 741.7 L1040.0 751.7 L1044.2 758.3 L1042.5 768.3 L1046.7 768.3 L1052.5 763.3 L1052.5 759.2 L1065.8 754.2 L1065.8 765.0 L1064.2 769.2 L1059.2 772.5 L1060.0 776.7 L1064.2 785.0 L1062.5 790.0 L1070.8 794.2 L1064.2 800.0 L1063.3 804.2 L1060.0 806.7 L1056.7 813.3 L1063.1 817.5 L1058.8 820.0 L1057.5 823.8 L1052.5 826.2 L1052.5 831.2 L1055.6 836.2 L1055.6 846.2 L1058.1 852.5 L1063.1 855.6 L1072.5 857.5 L1085.0 859.4 L1091.2 866.2 L1102.5 870.0 L1108.8 877.5 L1113.8 887.5 L1117.5 892.5 L1118.8 898.8 L1119.4 906.2 L1118.8 911.2 L1120.6 917.5 L1120.0 921.9 L1116.2 923.8 L1113.1 919.4 L1113.1 913.1 L1114.4 911.2 L1115.0 905.0 L1113.8 897.5 L1108.1 893.1 L1103.8 893.8 L1103.1 890.0 L1105.0 886.9 L1101.2 880.0 L1097.5 875.0 L1091.2 873.1 L1083.8 875.0 L1078.8 877.5 L1071.2 875.6 L1062.5 873.8 L1052.5 868.8 L1042.5 865.0 L1036.2 858.8 L1036.9 855.0 L1031.2 848.1 L1029.4 838.8 L1028.8 833.8 L1025.6 830.6 L1028.1 823.1 L1029.4 818.1 L1026.2 817.5 L1017.5 822.5 L1015.0 820.0 L1016.2 814.4 L1013.8 812.5 L1007.5 811.2 L1000.0 812.2 L995.0 814.4 L991.2 817.5 L983.8 820.6 L977.5 824.4 L968.8 825.6 L963.8 823.8 L967.5 830.0 L969.4 835.0 L968.8 840.6 L965.6 843.1 L960.0 844.4 L963.1 848.1 L963.1 852.5 L958.8 857.5 L956.2 863.1 L953.8 866.9 L956.9 871.9 L961.9 873.8 L966.9 869.4 L970.6 872.5 L973.1 878.8 L971.9 886.2 L970.0 892.5 L969.4 898.8 L963.1 905.0 L956.2 912.5 L952.5 920.0 L950.8 931.7 L952.5 939.2 L946.7 946.7 L945.0 954.2 L939.2 958.3 L933.3 956.7 L931.7 962.5 L926.7 960.0 L918.3 962.5 L911.7 960.8 L903.3 965.0 L891.7 969.2 L887.5 973.3 L882.5 971.7 L881.7 966.7 L878.3 964.2 L870.0 969.2 L863.3 966.7 L853.3 965.8 L846.7 961.7 L845.0 955.8 L837.5 952.5 L828.3 949.2 L818.3 948.3 L810.0 950.0 L803.3 955.0 L801.7 948.3 L798.3 945.0 L797.5 937.5 L793.3 935.0 L786.7 937.5 L780.0 936.7 L766.7 933.3 L761.7 930.0 L755.0 929.2 L749.2 925.0 L745.8 926.7 L739.2 925.8 L733.3 921.7 L729.2 913.3 L730.0 908.3 L735.0 899.2 L735.0 890.0 L732.5 883.3 L726.7 881.7 L724.2 864.2 L731.7 857.5 L740.0 855.8 L746.7 858.3 L748.3 854.2 L760.8 851.7 L761.7 847.5 L757.5 844.2 L746.7 843.7 L735.8 840.8 L729.2 831.7 L720.0 830.8 L713.3 825.0 L705.8 816.7 L705.0 808.3 L701.7 802.5 L694.2 800.0 L701.7 802.5 L694.2 799.2 L703.3 793.3 L702.5 788.3 L705.0 776.7 L705.0 770.0 L706.7 756.7 L700.0 750.0 L694.2 742.5 L701.7 737.5 L711.7 731.7 L710.8 716.7 L710.0 704.2 L720.0 698.3 L731.7 686.7 L731.7 675.8 L741.7 665.0 L748.3 655.0 L753.3 645.0 L755.8 635.8 L752.5 631.7 L756.7 638.3 L759.2 635.8 L768.3 638.0 L777.5 630.0 L786.7 620.8 Z"/>
<path d="M943.3 689.2 L945.8 693.3 L946.3 700.0 L944.2 704.2 L941.3 701.7 L940.5 695.0 Z"/>
<path d="M1030.8 702.5 L1035.0 700.3 L1034.2 706.7 L1032.5 710.8 Z"/>
<path d="M1035.8 713.3 L1040.0 710.8 L1040.8 717.5 L1044.2 720.0 L1037.5 720.8 Z"/>
<path d="M1069.2 757.5 L1075.0 756.7 L1075.3 772.5 L1069.2 775.3 L1068.3 766.7 Z"/>
<path d="M1062.5 841.2 L1065.0 835.0 L1069.4 833.1 L1074.4 835.0 L1076.5 841.2 L1075.0 845.0 L1082.5 847.5 L1090.0 850.0 L1094.4 854.4 L1093.8 857.2 L1085.0 857.2 L1071.2 855.0 L1064.4 853.1 L1061.9 847.5 Z"/>
<path d="M981.9 831.9 L986.9 826.9 L992.5 826.5 L993.1 828.8 L990.0 830.0 L989.4 832.5 L994.4 836.9 L993.8 838.5 L988.1 837.5 Z"/>
<path d="M973.8 843.8 L976.9 840.6 L980.6 840.6 L983.1 843.8 L984.4 849.4 L988.8 855.6 L993.1 861.2 L993.1 866.2 L989.4 868.1 L984.4 867.5 L977.5 862.5 L973.8 857.5 L973.1 850.0 Z"/>
<path d="M1245.0 883.1 L1232.5 888.1 L1218.8 896.2 L1214.4 902.5 L1210.0 905.6 L1207.5 910.6 L1208.8 916.9 L1211.9 919.4 L1207.5 920.6 L1205.6 925.6 L1209.4 930.6 L1215.0 924.4 L1223.1 919.0 L1233.1 918.5 L1239.4 916.9 L1238.2 910.2 L1232.8 904.5 L1227.8 900.0 L1233.1 894.6 L1241.0 888.8 Z"/>
<path d="M1395.0 934.0 L1380.0 932.5 L1373.1 926.2 L1362.5 921.9 L1340.6 911.9 L1337.5 915.0 L1350.6 921.9 L1346.2 927.5 L1325.6 916.2 L1331.9 908.8 L1315.6 901.9 L1308.1 893.1 L1302.5 903.1 L1297.5 893.1 L1288.8 888.1 L1271.2 884.4 L1264.4 886.5 L1258.8 882.8 L1251.9 882.8 L1246.0 888.5 L1238.2 893.2 L1231.5 899.8 L1238.0 904.8 L1241.0 915.0 L1238.1 922.5 L1245.0 920.6 L1255.0 922.5 L1258.8 927.5 L1260.0 933.8 L1270.0 942.5 L1271.9 951.9 L1279.4 958.8 L1284.4 952.5 L1293.8 949.4 L1301.2 955.0 L1303.8 961.9 L1300.6 967.5 L1302.5 970.6 L1313.8 976.9 L1316.9 985.0 L1316.9 994.4 L1323.1 994.4 L1321.2 988.8 L1326.9 985.0 L1336.9 988.1 L1338.8 993.8 L1331.2 998.8 L1328.8 1006.2 L1330.0 1013.1 L1335.6 1013.8 L1341.9 1018.8 L1348.8 1020.6 L1345.0 1026.2 L1341.9 1033.8 L1340.0 1040.0 L1336.9 1050.0 L1335.6 1062.5"/>
<path d="M1218.1 963.1 L1223.1 962.8 L1225.6 964.4 L1226.9 972.5 L1221.9 976.2 L1218.8 977.5 L1223.1 978.8 L1223.1 982.5 L1215.6 984.4 L1213.1 980.0 L1215.0 971.2 L1219.4 970.0 Z"/>
</g>
<circle cx="912" cy="792" r="504" fill="none" stroke="#000" stroke-width="4.4"/>
<!-- colorbar -->
<rect x="1435.3" y="333.2" width="38.2" height="917.7" fill="url(#jetg)"/>
<path d="M1435.3 333.2 L1454.40 288.0 L1473.5 333.2 Z" fill="#f0f"/>
<path d="M1435.3 1250.9 L1454.40 1296.3 L1473.5 1250.9 Z" fill="#808080"/>
<path d="M1435.3 333.2 L1454.40 288.0 L1473.5 333.2 L1473.5 1250.9 L1454.40 1296.3 L1435.3 1250.9 Z" fill="none" stroke="#000" stroke-width="3.33" stroke-linejoin="miter" stroke-miterlimit="10"/>
<path d="M1473.5 334.40 H1489.7" stroke="#000" stroke-width="3.33"/>
<text x="1503" y="348.50" font-size="41.67">4.0</text>
<path d="M1473.5 395.46 H1489.7" stroke="#000" stroke-width="3.33"/>
<text x="1503" y="409.56" font-size="41.67">3.5</text>
<path d="M1473.5 456.52 H1489.7" stroke="#000" stroke-width="3.33"/>
<text x="1503" y="470.62" font-size="41.67">3.0</text>
<path d="M1473.5 517.58 H1489.7" stroke="#000" stroke-width="3.33"/>
<text x="1503" y="531.68" font-size="41.67">2.5</text>
<path d="M1473.5 578.64 H1489.7" stroke="#000" stroke-width="3.33"/>
<text x="1503" y="592.74" font-size="41.67">2.0</text>
<path d="M1473.5 639.70 H1489.7" stroke="#000" stroke-width="3.33"/>
<text x="1503" y="653.80" font-size="41.67">1.5</text>
<path d="M1473.5 700.76 H1489.7" stroke="#000" stroke-width="3.33"/>
<text x="1503" y="714.86" font-size="41.67">1.0</text>
<path d="M1473.5 761.82 H1489.7" stroke="#000" stroke-width="3.33"/>
<text x="1503" y="775.92" font-size="41.67">0.5</text>
<path d="M1473.5 822.88 H1489.7" stroke="#000" stroke-width="3.33"/>
<text x="1503" y="836.98" font-size="41.67">0.0</text>
<path d="M1473.5 883.94 H1489.7" stroke="#000" stroke-width="3.33"/>
<text x="1503" y="898.04" font-size="41.67">−0.5</text>
<path d="M1473.5 945.00 H1489.7" stroke="#000" stroke-width="3.33"/>
<text x="1503" y="959.10" font-size="41.67">−1.0</text>
<path d="M1473.5 1006.06 H1489.7" stroke="#000" stroke-width="3.33"/>
<text x="1503" y="1020.16" font-size="41.67">−1.5</text>
<path d="M1473.5 1067.12 H1489.7" stroke="#000" stroke-width="3.33"/>
<text x="1503" y="1081.22" font-size="41.67">−2.0</text>
<path d="M1473.5 1128.18 H1489.7" stroke="#000" stroke-width="3.33"/>
<text x="1503" y="1142.28" font-size="41.67">−2.5</text>
<path d="M1473.5 1189.24 H1489.7" stroke="#000" stroke-width="3.33"/>
<text x="1503" y="1203.34" font-size="41.67">−3.0</text>
<path d="M1473.5 1250.30 H1489.7" stroke="#000" stroke-width="3.33"/>
<text x="1503" y="1264.40" font-size="41.67">−3.5</text>
<!-- texts -->
<text x="408" y="106.1" font-size="41.67" fill="#0000ff" letter-spacing="0.12">KNMI / ACSAF / EUMETSAT</text>
<text x="408" y="177" font-size="37.5">GOME M01 O3MNAP</text>
<text x="408" y="217" font-size="33.33" letter-spacing="0.04">Sensing Start: 2021-01-17T23:14:57 UTC</text>
<text x="912" y="263" font-size="41.67" text-anchor="middle">AAI [-]</text>
<text x="1416" y="83.1" font-size="20.83" text-anchor="end" xml:space="preserve">Plot created: </text>
<text x="1416" y="106.6" font-size="20.83" text-anchor="end" letter-spacing="0.035">2021-01-18 04:35:47 UTC</text>
<g fill="#ff0000" font-size="25" text-anchor="end">
<text x="1416" y="188.6">Plot filter:</text>
<text x="1416" y="216">[AAI_Orbit]</text>
<text x="1416" y="245">Scat Angle &gt; 90</text>
<text x="1416" y="272.5">Sunglint visible</text>
</g>
</svg>
</body></html>
